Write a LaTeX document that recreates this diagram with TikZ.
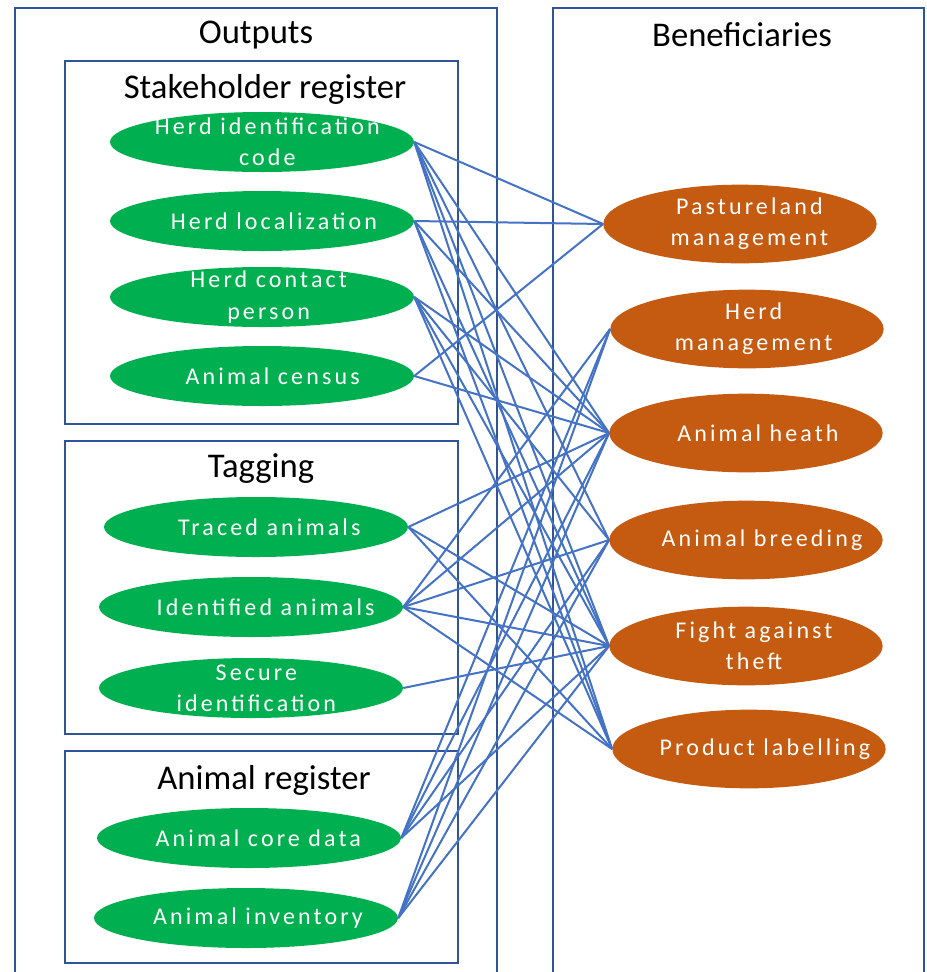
\documentclass[tikz,border=0pt]{standalone}
\usepackage{fontspec}
\setmainfont{Carlito}
\newfontfamily\spacedfont[LetterSpace=13]{Carlito}
\usetikzlibrary{shapes.geometric}
\definecolor{frameblue}{HTML}{2F5597}
\definecolor{linkblue}{HTML}{4472C4}
\definecolor{outgreen}{HTML}{00B050}
\definecolor{benorange}{HTML}{C55A11}

\begin{document}
\begin{tikzpicture}[x=0.75pt,y=-0.75pt,
  frame/.style={draw=frameblue, line width=1.5pt},
  heading/.style={font=\fontsize{26}{30}\selectfont, text=black, inner sep=0pt},
  bubbletext/.style={inner sep=0pt, text=white, align=center,
    font=\spacedfont\fontsize{18}{23.4}\selectfont},
  output/.style={ellipse, inner sep=0pt, fill=outgreen,
    minimum width=228pt, minimum height=45pt},
  benefit/.style={ellipse, inner sep=0pt, fill=benorange,
    minimum width=205pt, minimum height=59pt},
  link/.style={draw=linkblue, line width=1.5pt}]

\clip (0,0) rectangle (926,972);
\fill[white] (0,0) rectangle (926,972);

% group frames
\draw[frame] (15,8) rectangle (497,990);
\draw[frame] (553,8) rectangle (924,990);
\draw[frame] (65,61) rectangle (458,424);
\draw[frame] (65,441) rectangle (458,734);
\draw[frame] (65,751) rectangle (458,963);

% headings
\node[heading] (hOut) at (256,35) {Outputs};
\node[heading] (hBen) at (742,35) {Beneficiaries};
\node[heading] (hStake) at (265,89) {Stakeholder register};
\node[heading] (hTag) at (261,469) {Tagging};
\node[heading] (hAnim) at (264,780) {Animal register};

% outputs (label text sits slightly right of the ellipse centre)
\node[output, label={[bubbletext, xshift=4pt]center:{Herd identification\\code}}] (hic) at (262,142) {};
\node[output, label={[bubbletext, xshift=9pt]center:{Herd localization}}] (hloc) at (262,221) {};
\node[output, label={[bubbletext, xshift=5pt]center:{Herd contact\\person}}] (hcp) at (262,297) {};
\node[output, label={[bubbletext, xshift=8pt]center:{Animal census}}] (cens) at (262,376) {};
\node[output, label={[bubbletext, xshift=10pt]center:{Traced animals}}] (trac) at (256,527) {};
\node[output, label={[bubbletext, xshift=11pt]center:{Identified animals}}] (iden) at (251,607) {};
\node[output, label={[bubbletext, xshift=4pt]center:{Secure\\identification}}] (secu) at (251,688) {};
\node[output, label={[bubbletext, xshift=7pt]center:{Animal core data}}] (core) at (249,838) {};
\node[output, label={[bubbletext, xshift=9pt]center:{Animal inventory}}] (inv) at (246,918) {};

% beneficiaries
\node[benefit, label={[bubbletext, xshift=7pt]center:{Pastureland\\management}}] (past) at (740,224) {};
\node[benefit, label={[bubbletext, xshift=5pt]center:{Herd\\management}}] (herd) at (747,329) {};
\node[benefit, label={[bubbletext, xshift=9pt]center:{Animal heath}}] (heal) at (746,433) {};
\node[benefit, label={[bubbletext, xshift=12pt]center:{Animal breeding}}] (bree) at (746,540) {};
\node[benefit, label={[bubbletext, xshift=6pt]center:{Fight against\\theft}}] (thef) at (746,646) {};
\node[benefit, label={[bubbletext, xshift=12pt]center:{Product labelling}}] (labl) at (749,749) {};

% links from outputs to the beneficiaries they serve
\foreach \a/\b in {hic/past, hic/heal, hic/bree, hic/thef, hic/labl,
  hloc/past, hloc/heal, hloc/thef, hloc/labl,
  hcp/heal, hcp/bree, hcp/thef, hcp/labl,
  cens/past, cens/heal,
  trac/heal, trac/thef, trac/labl,
  iden/herd, iden/heal, iden/bree, iden/thef, iden/labl,
  secu/thef,
  core/herd, core/heal, core/bree, core/thef,
  inv/herd, inv/heal, inv/bree, inv/thef}
  \draw[link] (\a.east) -- (\b.west);
\end{tikzpicture}
\end{document}
